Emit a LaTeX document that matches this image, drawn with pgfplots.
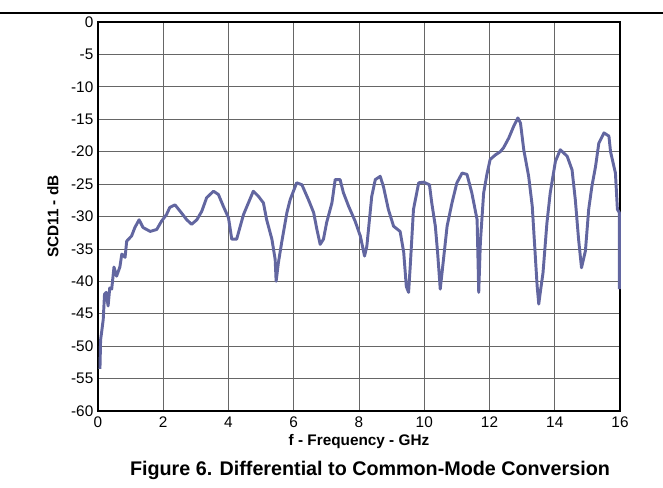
\documentclass[border=0pt]{standalone}
\usepackage{pgfplots}
\pgfplotsset{compat=1.18}
\usepackage{fontspec}
\setmainfont{Liberation Sans}
\definecolor{curve}{RGB}{98,102,160}
\begin{document}
\begin{tikzpicture}[x=0.75pt,y=0.75pt]
\path[use as bounding box] (-98,-76) rectangle (565,411);
\draw[line width=1.1pt] (-98,398) -- (565,398);
\begin{axis}[
  at={(0,0)}, anchor=south west,
  scale only axis,
  width=391.5pt, height=291.75pt,
  xmin=0, xmax=16, ymin=-60, ymax=0,
  xtick={0,2,...,16}, ytick={-60,-55,...,0},
  grid=major,
  major grid style={line width=0.6pt, color=black!60},
  major tick length=0pt,
  axis line style={line width=1.4pt, black},
  tick label style={font=\fontsize{11.5}{12}\selectfont},
  /pgf/number format/assume math mode=true,
  xticklabel style={yshift=-1pt},
  yticklabel style={xshift=0pt},
  xlabel={\textbf{f - Frequency - GHz}},
  ylabel={\textbf{SCD11 - dB}},
  label style={font=\fontsize{11.5}{12}\selectfont},
  xlabel style={yshift=2pt},
  ylabel style={yshift=2.5pt},
  clip=false,
]
\addplot[color=curve, line width=2.2pt, line join=round] coordinates {
(0.06,-53.5)(0.08,-49)(0.11,-47.9)(0.16,-45.9)(0.2,-42)(0.25,-41.7)(0.31,-43.8)(0.36,-41)(0.42,-41.2)(0.49,-37.8)(0.57,-39.2)(0.67,-37.8)(0.73,-35.8)(0.83,-36.3)(0.88,-33.8)(1.03,-33)(1.13,-31.7)(1.26,-30.5)(1.38,-31.7)(1.6,-32.3)(1.8,-32)(1.95,-30.7)(2.1,-29.7)(2.2,-28.6)(2.36,-28.2)(2.52,-29.2)(2.72,-30.5)(2.87,-31.2)(3.03,-30.5)(3.18,-29.2)(3.33,-27.1)(3.54,-26.1)(3.69,-26.6)(3.84,-28.4)(4.0,-30.2)(4.1,-33.5)(4.25,-33.5)(4.36,-31.5)(4.46,-29.7)(4.61,-27.9)(4.76,-26.1)(4.92,-26.9)(5.07,-27.9)(5.17,-30.5)(5.33,-33.5)(5.43,-36.6)(5.46,-40)(5.53,-37.1)(5.63,-34)(5.79,-29.4)(5.89,-27.4)(6.09,-24.8)(6.25,-25.1)(6.45,-27.4)(6.61,-29.4)(6.71,-32)(6.81,-34.3)(6.91,-33.5)(7.01,-30.9)(7.17,-27.9)(7.27,-24.3)(7.42,-24.3)(7.52,-26.3)(7.68,-28.4)(7.88,-30.7)(8.04,-33)(8.17,-36.1)(8.24,-34.6)(8.39,-26.9)(8.5,-24.3)(8.65,-23.8)(8.75,-25.4)(8.9,-28.9)(9.06,-31.5)(9.26,-32.3)(9.37,-35.5)(9.45,-40.8)(9.52,-41.7)(9.57,-37.7)(9.67,-28.9)(9.83,-24.8)(9.98,-24.7)(10.16,-25.1)(10.23,-27.9)(10.34,-31.5)(10.41,-35.6)(10.49,-41.2)(10.59,-36.6)(10.7,-31.5)(10.85,-27.9)(11.0,-24.8)(11.16,-23.3)(11.31,-23.5)(11.46,-26.4)(11.62,-30.5)(11.67,-41.7)(11.72,-34)(11.82,-26.4)(11.92,-23.5)(12.02,-21.2)(12.18,-20.5)(12.33,-20)(12.43,-19.4)(12.59,-17.9)(12.74,-16.1)(12.87,-14.8)(12.95,-15.6)(13.05,-19.7)(13.2,-23.8)(13.31,-28.4)(13.36,-32.5)(13.46,-40.7)(13.51,-43.5)(13.57,-41.2)(13.64,-38.7)(13.76,-31)(13.86,-26.4)(14.02,-21.5)(14.17,-19.7)(14.38,-20.7)(14.53,-22.8)(14.63,-27.4)(14.73,-33.5)(14.82,-37.9)(14.94,-35.3)(15.04,-28.9)(15.14,-25.3)(15.25,-22.3)(15.35,-18.7)(15.51,-17.1)(15.66,-17.6)(15.71,-20)(15.86,-23.3)(15.92,-28.9)(15.98,-29.4)(15.98,-41.2)
};
\end{axis}
\node[font=\bfseries\fontsize{14.8}{16}\selectfont, anchor=base] at (272,-64) {Figure 6. Differential to Common-Mode Conversion};
\end{tikzpicture}
\end{document}
